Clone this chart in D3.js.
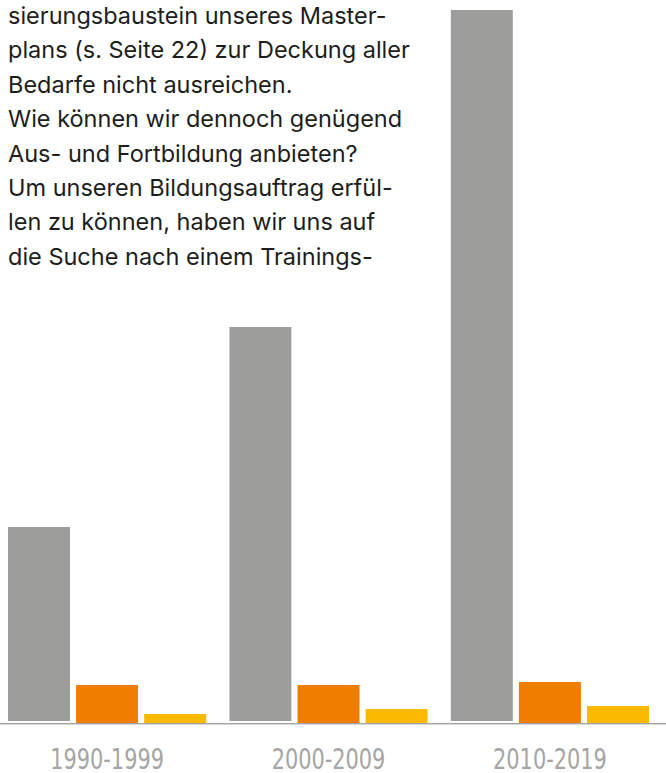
<!DOCTYPE html>
<html>
<head>
<meta charset="utf-8">
<script src="https://cdn.jsdelivr.net/npm/d3@7"></script>
<style>
  body { margin: 0; background: #fff; }
</style>
</head>
<body>
<div id="chart"></div>
<script>
// data
var decades = ["1990-1999", "2000-2009", "2010-2019"];
var seriesKeys = ["grau", "orange", "gelb"];
var grauValues = [196, 396, 713];
var orangeValues = [38, 38, 41];
var gelbValues = [9, 14, 17];
var textLines = [
  "sierungsbaustein unseres Master-",
  "plans (s. Seite 22) zur Deckung aller",
  "Bedarfe nicht ausreichen.",
  "Wie können wir dennoch genügend",
  "Aus- und Fortbildung anbieten?",
  "Um unseren Bildungsauftrag erfül-",
  "len zu können, haben wir uns auf",
  "die Suche nach einem Trainings-"
];

var colors = { grau: "#9d9d9b", orange: "#ef7d00", gelb: "#fbb900" };

var data = decades.map(function(d, i) {
  return { decade: d, grau: grauValues[i], orange: orangeValues[i], gelb: gelbValues[i] };
});

var W = 666, H = 773;
var baseline = 723;

var svg = d3.select("#chart")
  .append("svg")
    .attr("width", W)
    .attr("height", H);

// scales
var x0 = d3.scaleBand()
  .domain(decades)
  .range([8, 649])
  .paddingInner(0.105)
  .paddingOuter(0);

var x1 = d3.scaleBand()
  .domain(seriesKeys)
  .range([0, x0.bandwidth()])
  .paddingInner(0.09)
  .paddingOuter(0);

var y = d3.scaleLinear()
  .domain([0, d3.max(grauValues)])
  .range([baseline, 10]);

// bars
var groups = svg.selectAll("g.group")
  .data(data)
  .enter().append("g")
    .attr("class", "group")
    .attr("transform", function(d) { return "translate(" + x0(d.decade) + ",0)"; });

groups.selectAll("rect")
  .data(function(d) { return seriesKeys.map(function(k) { return { key: k, value: d[k] }; }); })
  .enter().append("rect")
    .attr("x", function(d) { return x1(d.key); })
    .attr("width", x1.bandwidth())
    .attr("y", function(d) { return y(d.value); })
    // the grey bars stop a little short of the base line
    .attr("height", function(d) { return baseline - y(d.value) - (d.key == "grau" ? 2 : 0); })
    .attr("fill", function(d) { return colors[d.key]; });

// baseline
svg.append("line")
  .attr("x1", 0).attr("x2", W)
  .attr("y1", baseline + 0.5).attr("y2", baseline + 0.5)
  .attr("stroke", "#a3a3a3")
  .attr("stroke-width", 1);
svg.append("line")
  .attr("x1", 0).attr("x2", W)
  .attr("y1", baseline + 1.5).attr("y2", baseline + 1.5)
  .attr("stroke", "#d8d8d8")
  .attr("stroke-width", 1);

// x labels (condensed look)
var xAxis = svg.append("g")
  .attr("transform", "translate(0," + baseline + ")")
  .call(d3.axisBottom(x0).tickSize(0).tickPadding(0));
xAxis.select(".domain").remove();
xAxis.selectAll("text")
  .attr("dy", 0)
  .attr("y", 46)
  .attr("transform", "scale(0.8,1)")
  .attr("fill", "#a5a5a5")
  .style("font-family", "'Liberation Sans Narrow', 'DejaVu Sans Condensed', sans-serif")
  .style("font-size", "29px");

// paragraph text
var para = svg.append("g")
  .style("font-family", "Inter, Roboto, sans-serif")
  .style("font-size", "20px");

para.selectAll("text")
  .data(textLines)
  .enter().append("text")
    .attr("x", 8)
    .attr("y", function(d, i) { return 24 + i * 34.4; })
    .attr("fill", "#1d1d1b")
    .text(function(d) { return d; });

// fit the font size so the second line runs to about x=410
var measured = para.selectAll("text").nodes()[1].getComputedTextLength();
para.style("font-size", (20 * 402 / measured) + "px");
</script>
</body>
</html>
